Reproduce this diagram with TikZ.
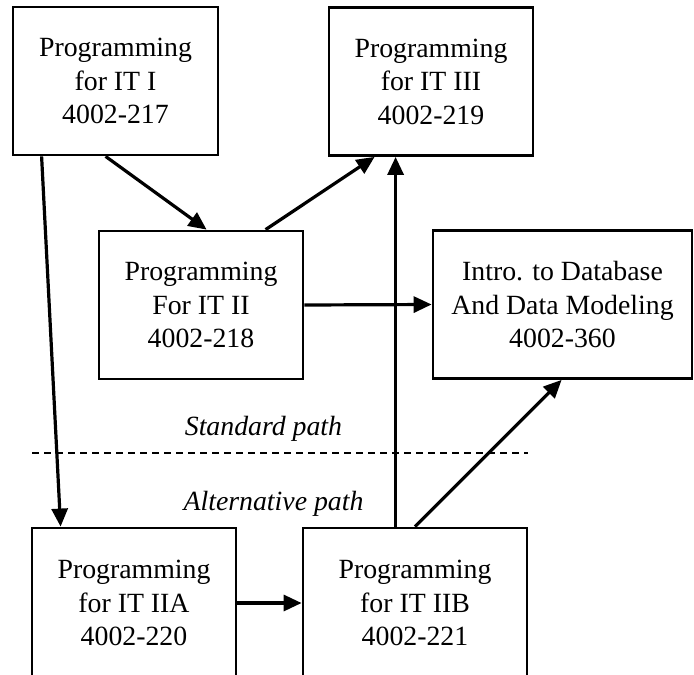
\documentclass[tikz,border=0pt]{standalone}
\usepackage{fontspec}
\setmainfont{Liberation Serif}
\usetikzlibrary{arrows.meta}

\begin{document}
\begin{tikzpicture}[x=1pt, y=-1pt,
  course/.style={draw, line width=2.8pt, rectangle, inner sep=0pt,
    minimum height=148pt, align=center,
    font=\fontsize{27.8pt}{33.5pt}\selectfont},
  link/.style={line width=3.2pt, -{Triangle[length=18pt,width=16pt]}},
  pathlabel/.style={anchor=base, inner sep=0pt,
    font=\fontsize{27.8pt}{33.5pt}\selectfont\itshape},
  divider/.style={line width=2.2pt, dash pattern=on 7pt off 5pt}]
  \useasboundingbox (0,0) rectangle (694,675);
  \clip (0,0) rectangle (694,675);

  % course boxes
  \node[course, minimum width=205pt] (p1) at (115.5,81) {Programming\\for IT I\\4002-217};
  \node[course, minimum width=204pt] (p3) at (431,81.5) {Programming\\for IT III\\4002-219};
  \node[course, minimum width=204pt] (p2) at (201,305) {Programming\\For IT II\\4002-218};
  \node[course, minimum width=259pt] (db) at (562.5,304.5) {Intro. to Database\\And Data Modeling\\4002-360};
  \node[course, minimum width=204pt, minimum height=150pt] (p2a) at (134,603) {Programming\\for IT IIA\\4002-220};
  \node[course, minimum width=224pt, minimum height=150pt] (p2b) at (415,603) {Programming\\for IT IIB\\4002-221};

  % split between the two paths
  \draw[divider] (32,453) -- (528,453);
  \node[pathlabel] (std) at (263.5,435) {Standard path};
  \node[pathlabel] (alt) at (273.5,510) {Alternative path};

  % prerequisites
  \draw[link] ([xshift=30pt]p1.south west) -- ([xshift=30pt]p2a.north west);
  \draw[link] ([xshift=94pt]p1.south west) -- ([xshift=109pt]p2.north west);
  \draw[link] ([xshift=168pt]p2.north west) -- ([xshift=47pt]p3.south west);
  \draw[link] ([xshift=94pt]p2b.north west) -- ([xshift=68pt]p3.south west);
  \draw[link] (p2.east) -- (db.west);
  \draw[link] (p2a.east) -- (p2b.west);
  \draw[link] (p2b.north) -- ([xshift=130pt]db.south west);
\end{tikzpicture}
\end{document}
